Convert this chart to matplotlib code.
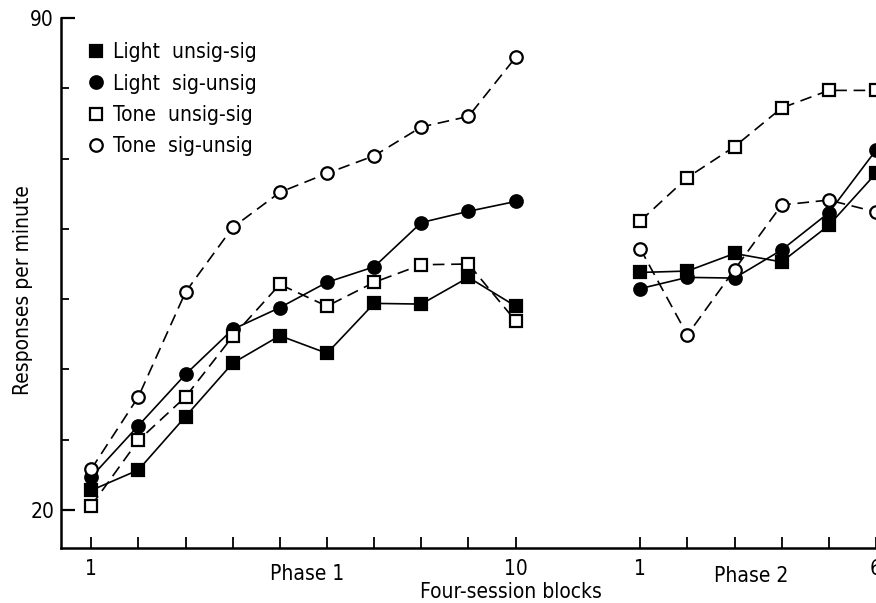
import numpy as np
import matplotlib
matplotlib.use("Agg")
from matplotlib import pyplot as plt

# blocks per phase
phase1_blocks = np.arange(1, 11)
phase2_blocks = np.arange(1, 7)
phase_gap = 1.64          # extra space between the two phases, in block units

# Responses per minute
light_unsig_sig_p1 = [22.8, 25.7, 33.3, 40.9, 44.8, 42.3, 49.4, 49.3, 53.1, 49.0]
light_sig_unsig_p1 = [24.7, 32.0, 39.3, 45.7, 48.8, 52.4, 54.6, 60.9, 62.5, 63.9]
tone_unsig_sig_p1 = [20.6, 29.9, 36.1, 44.7, 52.1, 49.0, 52.4, 54.9, 55.0, 46.9]
tone_sig_unsig_p1 = [25.8, 36.1, 51.0, 60.2, 65.2, 67.9, 70.4, 74.5, 76.0, 84.4]

light_unsig_sig_p2 = [53.8, 54.0, 56.5, 55.3, 60.5, 67.9]
light_sig_unsig_p2 = [51.5, 53.1, 53.0, 57.0, 62.3, 71.2]
tone_unsig_sig_p2 = [61.1, 67.3, 71.7, 77.2, 79.7, 79.7]
tone_sig_unsig_p2 = [57.2, 44.9, 54.2, 63.4, 64.1, 62.4]

labels = ["Light  unsig-sig", "Light  sig-unsig", "Tone  unsig-sig", "Tone  sig-unsig"]

plt.rcParams["font.family"] = ["DejaVu Sans"]
plt.rcParams["font.stretch"] = "condensed"
plt.rcParams["font.size"] = 15

fig = plt.figure()
fig.set_dpi(100)
fig.set_size_inches(8.76, 6.03)
ax = fig.add_axes([61 / 876, 55 / 603, 1 - 61 / 876, 530 / 603])

x1 = phase1_blocks.astype(float)
x2 = 10 + phase_gap + phase2_blocks

lw = 1.2
dash = (0, (7, 4))
styles = [
    dict(marker="s", color="black", mfc="black", ls="-"),
    dict(marker="o", color="black", mfc="black", ls="-"),
    dict(marker="s", color="black", mfc="white", ls=dash),
    dict(marker="o", color="black", mfc="white", ls=dash),
]
series = [
    (light_unsig_sig_p1, light_unsig_sig_p2),
    (light_sig_unsig_p1, light_sig_unsig_p2),
    (tone_unsig_sig_p1, tone_unsig_sig_p2),
    (tone_sig_unsig_p1, tone_sig_unsig_p2),
]
for (p1, p2), st, lab in zip(series, styles, labels):
    ax.plot(x1, p1, lw=lw, ms=9, mew=1.6, label=lab, **st)
    ax.plot(x2, p2, lw=lw, ms=9, mew=1.6, **st)

ax.set_xlim(0.36, 16.66)
ax.set_ylim(14.6, 90)

ax.spines["top"].set_visible(False)
ax.spines["right"].set_visible(False)
ax.spines["left"].set_linewidth(1.8)
ax.spines["bottom"].set_linewidth(1.8)

xt = np.concatenate([x1, x2])
xl = [""] * len(xt)
xl[0], xl[9], xl[10], xl[15] = "1", "10", "1", "6"
ax.set_xticks(xt)
ax.set_xticklabels(xl)
ax.tick_params(axis="x", direction="in", length=8, width=1.3, pad=8)

ax.set_yticks([20, 90])
ax.set_yticks(np.arange(30, 90, 10), minor=True)
ax.tick_params(axis="y", which="major", direction="in", length=10, width=1.6, pad=5)
ax.tick_params(axis="y", which="minor", direction="in", length=6, width=1.3)

ax.set_ylabel("Responses per minute")
ax.yaxis.set_label_coords(-0.034, 0.487)
fig.text(307 / 876, 1 - 574 / 603, "Phase 1", ha="center", va="center")
fig.text(751 / 876, 1 - 576 / 603, "Phase 2", ha="center", va="center")
fig.text(511 / 876, 1 - 592 / 603, "Four-session blocks", ha="center", va="center")

ax.legend(loc="upper left", bbox_to_anchor=(0.02, 0.99), frameon=False,
          handlelength=0, handletextpad=0.8, labelspacing=0.55,
          markerscale=1.0, fontsize=15)

fig.savefig("out.png", dpi=100)
